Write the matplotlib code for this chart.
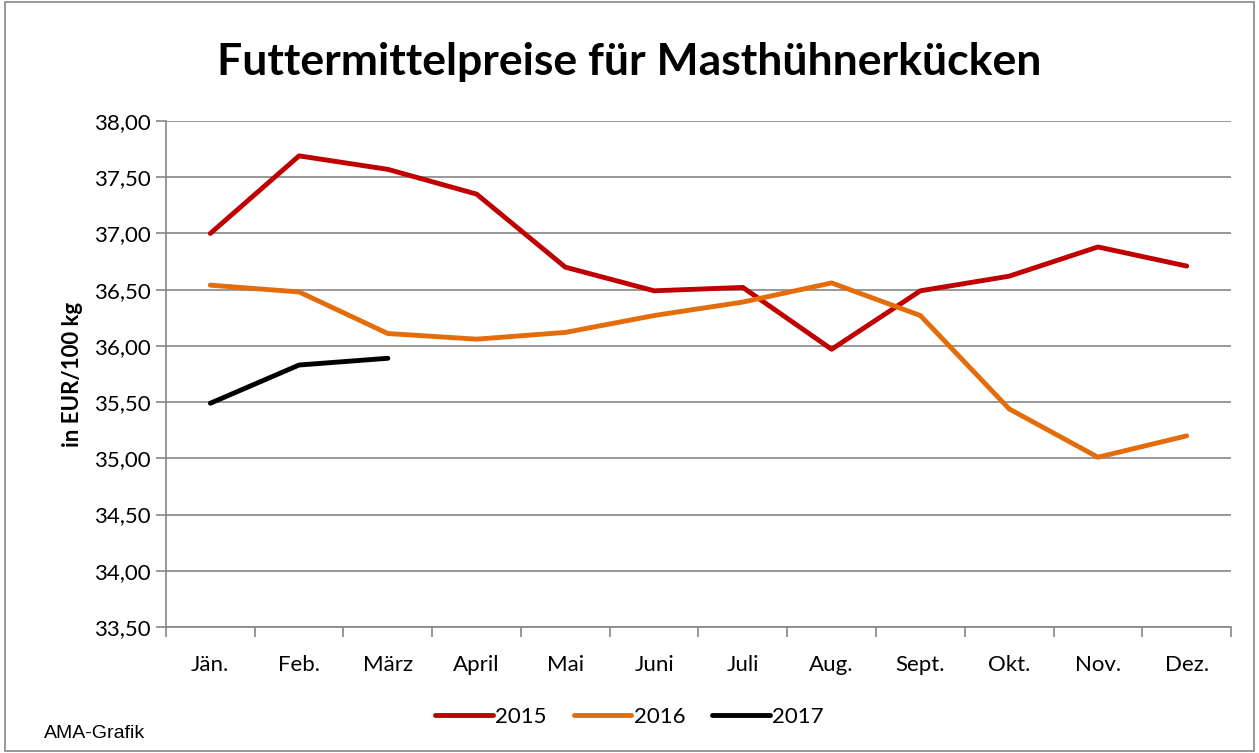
import matplotlib.pyplot as plt
import numpy as np
from matplotlib.patches import Rectangle

months = ['Jän.', 'Feb.', 'März', 'April', 'Mai', 'Juni', 'Juli', 'Aug.', 'Sept.', 'Okt.', 'Nov.', 'Dez.']
p2015 = [37.00, 37.69, 37.57, 37.35, 36.70, 36.49, 36.52, 35.97, 36.49, 36.62, 36.88, 36.71]
p2016 = [36.54, 36.48, 36.11, 36.06, 36.12, 36.27, 36.39, 36.56, 36.27, 35.44, 35.01, 35.20]
p2017 = [35.49, 35.83, 35.89]
yticks = np.arange(33.5, 38.01, 0.5)

plt.rcParams['font.family'] = ['Lato', 'DejaVu Sans']

fig = plt.figure(figsize=(12.59, 7.53), dpi=100)
ax = fig.add_axes([0.1318, 0.1673, 0.846, 0.672])

x = np.arange(len(months))
ax.plot(x, p2015, color='#C00000', lw=3.5, label='2015', solid_capstyle='round')
ax.plot(x, p2016, color='#E46C0A', lw=3.5, label='2016', solid_capstyle='round')
ax.plot(x[:len(p2017)], p2017, color='black', lw=3.5, label='2017', solid_capstyle='round')

ax.set_xlim(-0.5, 11.5)
ax.set_ylim(33.5, 38.0)
ax.set_yticks(yticks)
ax.set_yticklabels([f'{v:.2f}'.replace('.', ',') for v in yticks], fontsize=16)
ax.set_xticks(x)
ax.set_xticklabels(months, fontsize=16)
ax.tick_params(axis='x', which='major', length=0, pad=20)
ax.set_xticks(np.arange(-0.5, 11.6, 1), minor=True)
ax.tick_params(axis='x', which='minor', length=7, color='#868686', width=1.2)
ax.tick_params(axis='y', length=7, color='#868686', width=1.2, pad=4)
ax.grid(axis='y', color='#868686', lw=1.2)
ax.set_axisbelow(True)
for s in ['top', 'right']:
    ax.spines[s].set_visible(False)
for s in ['left', 'bottom']:
    ax.spines[s].set_color('#868686')
    ax.spines[s].set_linewidth(1.2)

ax.set_ylabel('in EUR/100 kg', fontsize=16, fontweight='bold', labelpad=8)

fig.text(0.5, 0.918, 'Futtermittelpreise für Masthühnerkücken', ha='center', va='center',
         fontsize=32, fontweight='bold')
fig.text(0.035, 0.02, 'AMA-Grafik', fontsize=14, family='Liberation Sans')

leg = fig.legend(loc='center', bbox_to_anchor=(0.5, 0.048), ncol=3, frameon=False,
                 fontsize=16, handlelength=2.6, handletextpad=0.1, columnspacing=1.2)

fig.patches.append(Rectangle((0.004, 0.003), 0.992, 0.994, transform=fig.transFigure,
                             fill=False, edgecolor='#868686', lw=1.2))

fig.savefig('out.png', dpi=100)
